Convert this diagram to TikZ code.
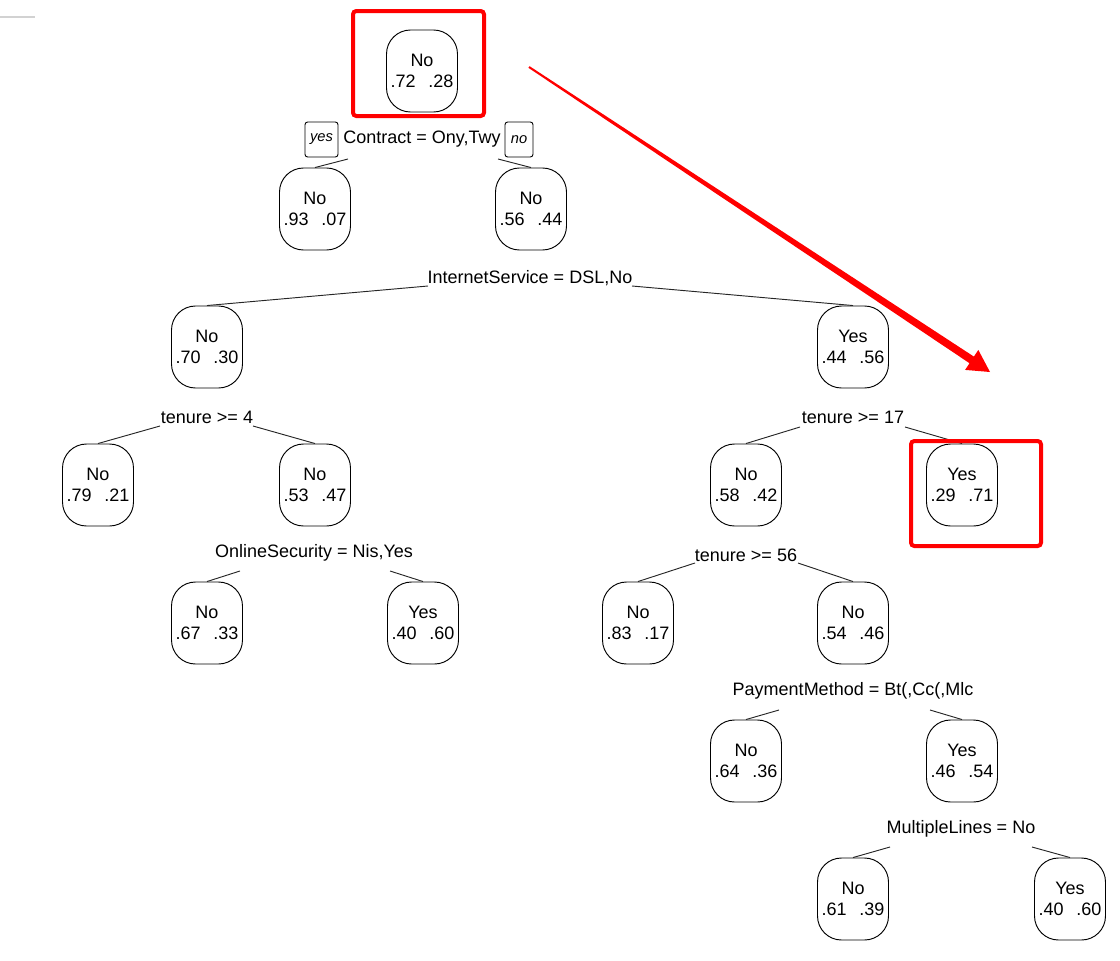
\documentclass[tikz,border=0pt]{standalone}
\usepackage{fontspec}
\setmainfont{Liberation Sans}
\begin{document}
\begin{tikzpicture}[x=0.75pt,y=-0.75pt,
  leaf/.style={draw=black, line width=0.7pt, rounded corners=18pt,
    minimum width=53.25pt, minimum height=61.5pt, inner sep=0pt, align=center,
    font=\fontsize{13.5}{15.75}\selectfont},
  split/.style={inner sep=0pt, font=\fontsize{13.5}{16}\selectfont},
  branch/.style={line width=0.7pt, black!85},
  tag/.style={draw=black, line width=0.7pt, rounded corners=2pt, inner sep=0pt,
    minimum height=26.25pt, font=\fontsize{11}{13}\selectfont\itshape},
  frame/.style={draw=red, line width=3pt, rounded corners=2.5pt},
  arrowfill/.style={fill=red}]

% page extent
\useasboundingbox (0,0) rectangle (1120,960);
\draw[gray!35, line width=0.8pt] (0,17) -- (35,17);

% two-line node content: class, then the two probabilities
\newcommand{\probs}[3]{#1\\#2\hspace{0.7em}#3}

% leaves and inner nodes of the tree
\node[leaf] (n1)   at (422,71)   {\probs{No}{.72}{.28}};
\node[leaf] (n2)   at (315,209)  {\probs{No}{.93}{.07}};
\node[leaf] (n3)   at (531,209)  {\probs{No}{.56}{.44}};
\node[leaf] (n6)   at (207,347)  {\probs{No}{.70}{.30}};
\node[leaf] (n7)   at (853,347)  {\probs{Yes}{.44}{.56}};
\node[leaf] (n12)  at (98,485)   {\probs{No}{.79}{.21}};
\node[leaf] (n13)  at (315,485)  {\probs{No}{.53}{.47}};
\node[leaf] (n14)  at (746,485)  {\probs{No}{.58}{.42}};
\node[leaf] (n15)  at (962,485)  {\probs{Yes}{.29}{.71}};
\node[leaf] (n26)  at (207,623)  {\probs{No}{.67}{.33}};
\node[leaf] (n27)  at (423,623)  {\probs{Yes}{.40}{.60}};
\node[leaf] (n28)  at (638,623)  {\probs{No}{.83}{.17}};
\node[leaf] (n29)  at (853,623)  {\probs{No}{.54}{.46}};
\node[leaf] (n58)  at (746,761)  {\probs{No}{.64}{.36}};
\node[leaf] (n59)  at (962,761)  {\probs{Yes}{.46}{.54}};
\node[leaf] (n118) at (853,899)  {\probs{No}{.61}{.39}};
\node[leaf] (n119) at (1070,899) {\probs{Yes}{.40}{.60}};

% split labels
\node[split] (s1)  at (422,139) {Contract = Ony,Twy};
\node[tag, minimum width=24.75pt] (tyes) at (321.5,139.5) {yes};
\node[tag, minimum width=21pt]    (tno)  at (519,139.5)   {no};
\node[split] (s3)  at (530,278) {InternetService = DSL,No};
\node[split] (s6)  at (207,417) {tenure >= 4};
\node[split] (s7)  at (853,417) {tenure >= 17};
\node[split] (s13) at (314,553) {OnlineSecurity = Nis,Yes};
\node[split] (s14) at (746,555) {tenure >= 56};
\node[split] (s29) at (853,691) {PaymentMethod = Bt(,Cc(,Mlc};
\node[split] (s59) at (961,829) {MultipleLines = No};

% branch ends under the split labels
\coordinate (b1l)  at (348,159);  \coordinate (b1r)  at (498,159);
\coordinate (b3l)  at (428,286);  \coordinate (b3r)  at (632,286);
\coordinate (b6l)  at (160,426);  \coordinate (b6r)  at (253,426);
\coordinate (b7l)  at (800,427);  \coordinate (b7r)  at (905,427);
\coordinate (b13l) at (240,571);  \coordinate (b13r) at (390,571);
\coordinate (b14l) at (695,563);  \coordinate (b14r) at (798,563);
\coordinate (b29l) at (779,710);  \coordinate (b29r) at (930,710);
\coordinate (b59l) at (890,847);  \coordinate (b59r) at (1032,847);

% branches
\draw[branch] (b1l) -- (n2.north);   \draw[branch] (b1r) -- (n3.north);
\draw[branch] (b3l) -- (n6.north);   \draw[branch] (b3r) -- (n7.north);
\draw[branch] (b6l) -- (n12.north);  \draw[branch] (b6r) -- (n13.north);
\draw[branch] (b7l) -- (n14.north);  \draw[branch] (b7r) -- (n15.north);
\draw[branch] (b13l) -- (n26.north); \draw[branch] (b13r) -- (n27.north);
\draw[branch] (b14l) -- (n28.north); \draw[branch] (b14r) -- (n29.north);
\draw[branch] (b29l) -- (n58.north); \draw[branch] (b29r) -- (n59.north);
\draw[branch] (b59l) -- (n118.north); \draw[branch] (b59r) -- (n119.north);

% red highlight frames
\draw[frame] (353,11) rectangle (484,116);
\draw[frame] (911,441) rectangle (1041,546);

% tapered red arrow
\fill[arrowfill] (528.4,67.8) -- (969.5,363.2) -- (965.1,369.9) -- (990,372)
  -- (978.3,349.9) -- (973.9,356.6) -- (529.6,66.2) -- cycle;
\end{tikzpicture}
\end{document}
